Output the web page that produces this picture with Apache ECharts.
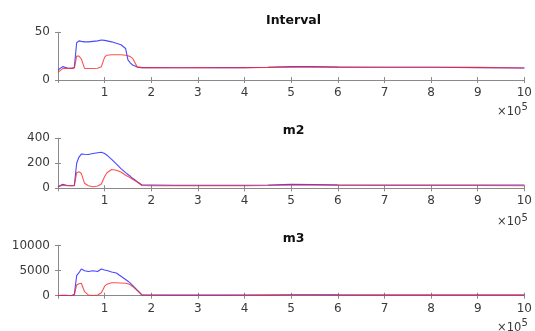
<!DOCTYPE html>
<html>
<head>
<meta charset="utf-8">
<script src="https://cdn.jsdelivr.net/npm/echarts@6/dist/echarts.min.js"></script>
<style>
  html, body { margin: 0; padding: 0; background: #fff; }
  #main { width: 535px; height: 331px; }
</style>
</head>
<body>
<div id="main"></div>
<script>
// x positions, in units of 10^5
var xs = [0, 0.1, 0.2, 0.3, 0.35, 0.4, 0.45, 0.5, 0.57, 0.65,
          0.75, 0.85, 0.93, 1.0, 1.05, 1.15, 1.25, 1.35, 1.45, 1.5,
          1.55, 1.6, 1.7, 1.8, 2, 2.5, 3, 3.5, 4, 4.5,
          5, 5.5, 6, 7, 8, 9, 10];

var intervalBlue = [10.5, 14, 12.5, 12.2, 13, 39, 41, 40.5, 40, 40,
                    40.5, 41, 42, 41.5, 41, 40, 38.5, 37, 33, 21,
                    18, 15.7, 13.5, 13, 13, 12.8, 12.8, 13, 13, 13.3,
                    14, 14, 13.5, 13.3, 13.3, 13, 12.5];
var intervalRed  = [8, 12, 12.2, 12.2, 12.5, 25, 25, 22, 12.2, 12,
                    12, 12.3, 14, 24, 26, 26.5, 26.5, 26.5, 26, 25.5,
                    24.5, 22.7, 13.5, 13, 13, 12.8, 13, 12.8, 13, 13.2,
                    13.5, 13.5, 13.5, 13.3, 13.3, 13.2, 12.5];

var m2Blue = [13, 32, 22, 21, 22, 200, 250, 274, 272, 270,
              278, 285, 288, 278, 265, 232, 195, 158, 125, 110,
              96, 80, 52, 26, 26, 25, 25, 25, 25, 27,
              32, 30, 28, 27, 27, 27, 26];
var m2Red  = [13, 24, 20, 20, 21, 125, 133, 118, 40, 20,
              13, 18, 35, 95, 125, 150, 145, 130, 105, 95,
              85, 73, 50, 22, 20, 20, 21, 21, 21, 22,
              24, 24, 23, 22, 22, 22, 21];

var m3Blue = [50, 100, 60, 50, 300, 4000, 4600, 5330, 5000, 4850,
              5000, 4850, 5330, 5150, 5050, 4750, 4550, 3900, 3250, 2900,
              2500, 2050, 1100, 150, 130, 120, 120, 120, 130, 150,
              200, 180, 160, 150, 150, 150, 130];
var m3Red  = [20, 50, 30, 20, 100, 2160, 2400, 2500, 800, 150,
              50, 150, 600, 1900, 2300, 2600, 2600, 2550, 2500, 2400,
              2200, 1850, 1000, 150, 100, 100, 100, 100, 100, 120,
              150, 140, 130, 120, 120, 120, 110];

var titles = ['Interval', 'm2', 'm3'];
var yMax = [50, 400, 10000];
var yStep = [50, 200, 5000];

function pairs(ys) {
  var out = [];
  for (var i = 0; i < xs.length; i++) out.push([xs[i], ys[i]]);
  return out;
}

var font = 'DejaVu Sans';
var axisGray = '#8a8a8a';
var textGray = '#3a3a3a';

var gridTops = [32.3, 138.3, 245.7];
var gridHeights = [47.7, 50, 50];
var titleTops = [14, 124, 232];
var expTops = [105.8, 216.5, 321.8];

var grids = [], xAxes = [], yAxes = [], series = [], graphics = [];
var seriesData = [[intervalBlue, intervalRed], [m2Blue, m2Red], [m3Blue, m3Red]];

for (var p = 0; p < 3; p++) {
  grids.push({ left: 58, right: 6, top: gridTops[p], height: gridHeights[p] });

  // bottom and top x axes (box look)
  xAxes.push({
    gridIndex: p, type: 'value', min: 0, max: 10, interval: 1,
    position: 'bottom',
    axisLine: { lineStyle: { color: axisGray, width: 1 } },
    axisTick: { inside: true, length: 3, lineStyle: { color: axisGray } },
    axisLabel: {
      margin: 7, color: textGray, fontFamily: font, fontSize: 12,
      formatter: function (v) { return v === 0 ? '' : String(v); }
    },
    splitLine: { show: false }
  });
  xAxes.push({
    gridIndex: p, type: 'value', min: 0, max: 10, interval: 1,
    position: 'top',
    axisLine: { lineStyle: { color: axisGray, width: 1 } },
    axisTick: { inside: true, length: 3, lineStyle: { color: axisGray } },
    axisLabel: { show: false },
    splitLine: { show: false }
  });

  // left and right y axes
  yAxes.push({
    gridIndex: p, type: 'value', min: 0, max: yMax[p], interval: yStep[p],
    position: 'left',
    axisLine: { show: true, lineStyle: { color: axisGray, width: 1 } },
    axisTick: { show: true, inside: true, length: 3, lineStyle: { color: axisGray } },
    axisLabel: {
      margin: 8, color: textGray, fontFamily: font, fontSize: 12,
      formatter: function (v) { return String(v); }
    },
    splitLine: { show: false }
  });
  yAxes.push({
    gridIndex: p, type: 'value', min: 0, max: yMax[p], interval: yStep[p],
    position: 'right',
    axisLine: { show: true, lineStyle: { color: axisGray, width: 1 } },
    axisTick: { show: true, inside: true, length: 3, lineStyle: { color: axisGray } },
    axisLabel: { show: false },
    splitLine: { show: false }
  });

  series.push({
    type: 'line', xAxisIndex: p * 2, yAxisIndex: p * 2,
    data: pairs(seriesData[p][0]), showSymbol: false, symbol: 'none',
    lineStyle: { color: '#3535ff', width: 1.1, opacity: 0.9 },
    animation: false
  });
  series.push({
    type: 'line', xAxisIndex: p * 2, yAxisIndex: p * 2,
    data: pairs(seriesData[p][1]), showSymbol: false, symbol: 'none',
    lineStyle: { color: '#ff2626', width: 1.1, opacity: 0.8 },
    animation: false
  });

  graphics.push({
    type: 'text', x: 293.5, y: titleTops[p],
    style: { text: titles[p], fill: '#111', font: 'bold 12.5px ' + font, textAlign: 'center', textVerticalAlign: 'top' }
  });
  graphics.push({
    type: 'text', x: 497, y: expTops[p],
    style: { text: '\u00d710', fill: textGray, font: '11.5px ' + font, textVerticalAlign: 'top' }
  });
  graphics.push({
    type: 'text', x: 521.5, y: expTops[p] - 3,
    style: { text: '5', fill: textGray, font: '10px ' + font, textVerticalAlign: 'top' }
  });
}

var option = {
  animation: false,
  backgroundColor: '#fff',
  grid: grids,
  xAxis: xAxes,
  yAxis: yAxes,
  series: series,
  graphic: graphics
};

var myChart = echarts.init(document.getElementById('main'));
myChart.setOption(option);

window.addEventListener('resize', function () {
  myChart.resize();
});
</script>
</body>
</html>
